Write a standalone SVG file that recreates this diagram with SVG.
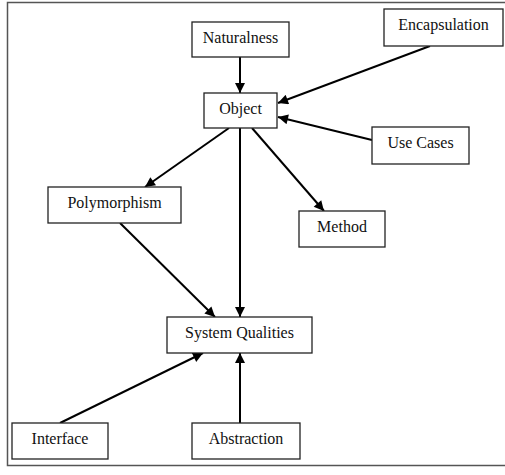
<svg xmlns="http://www.w3.org/2000/svg" width="505" height="475" viewBox="0 0 505 475">
  <style>
    .frame { fill: none; stroke: #555; stroke-width: 1.5; }
    .box { fill: #fff; stroke: #222; stroke-width: 1.3; }
    .label { font-family: 'Liberation Serif', 'DejaVu Serif', serif; font-size: 16px; fill: #111; text-anchor: middle; }
    .edge { stroke: #000; stroke-width: 2; fill: none; marker-end: url(#arrow); }
  </style>
  <defs>
    <marker id="arrow" viewBox="0 0 10 10" refX="10" refY="5" markerWidth="5.5" markerHeight="5" orient="auto" markerUnits="strokeWidth">
      <path d="M0,0 L10,5 L0,10 z" fill="#000"/>
    </marker>
  </defs>

  <rect width="505" height="475" fill="#fff"/>
  <!-- outer frame, open on the right -->
  <rect class="frame" x="7.5" y="2.5" width="510" height="463"/>

  <g id="connectors">
    <line class="edge" x1="240" y1="57" x2="240" y2="93"/>
    <line class="edge" x1="430" y1="46" x2="278" y2="103"/>
    <line class="edge" x1="372" y1="140" x2="278" y2="117"/>
    <line class="edge" x1="229" y1="128" x2="145" y2="187"/>
    <line class="edge" x1="240" y1="128" x2="240" y2="317"/>
    <line class="edge" x1="252" y1="128" x2="324" y2="211"/>
    <line class="edge" x1="120" y1="223" x2="215" y2="317"/>
    <line class="edge" x1="60" y1="423" x2="203" y2="353"/>
    <line class="edge" x1="240" y1="423" x2="240" y2="353"/>
  </g>

  <g id="naturalness">
    <rect class="box" x="192" y="22" width="97" height="35"/>
    <text class="label" x="240.5" y="43" font-family="Liberation Serif">Naturalness</text>
  </g>
  <g id="encapsulation">
    <rect class="box" x="384" y="9" width="119" height="37"/>
    <text class="label" x="443.5" y="30" font-family="Liberation Serif">Encapsulation</text>
  </g>
  <g id="object">
    <rect class="box" x="204" y="93" width="73" height="35"/>
    <text class="label" x="240.5" y="114" font-family="Liberation Serif">Object</text>
  </g>
  <g id="use-cases">
    <rect class="box" x="372" y="127" width="97" height="37"/>
    <text class="label" x="420.5" y="148" font-family="Liberation Serif">Use Cases</text>
  </g>
  <g id="polymorphism">
    <rect class="box" x="48" y="187" width="133" height="36"/>
    <text class="label" x="114.5" y="208" font-family="Liberation Serif">Polymorphism</text>
  </g>
  <g id="method">
    <rect class="box" x="299" y="211" width="86" height="36"/>
    <text class="label" x="342" y="232" font-family="Liberation Serif">Method</text>
  </g>
  <g id="system-qualities">
    <rect class="box" x="167" y="317" width="145" height="36"/>
    <text class="label" x="239.5" y="338" font-family="Liberation Serif">System Qualities</text>
  </g>
  <g id="interface">
    <rect class="box" x="12" y="423" width="96" height="36"/>
    <text class="label" x="60" y="444" font-family="Liberation Serif">Interface</text>
  </g>
  <g id="abstraction">
    <rect class="box" x="192" y="423" width="108" height="36"/>
    <text class="label" x="246" y="444" font-family="Liberation Serif">Abstraction</text>
  </g>
</svg>
